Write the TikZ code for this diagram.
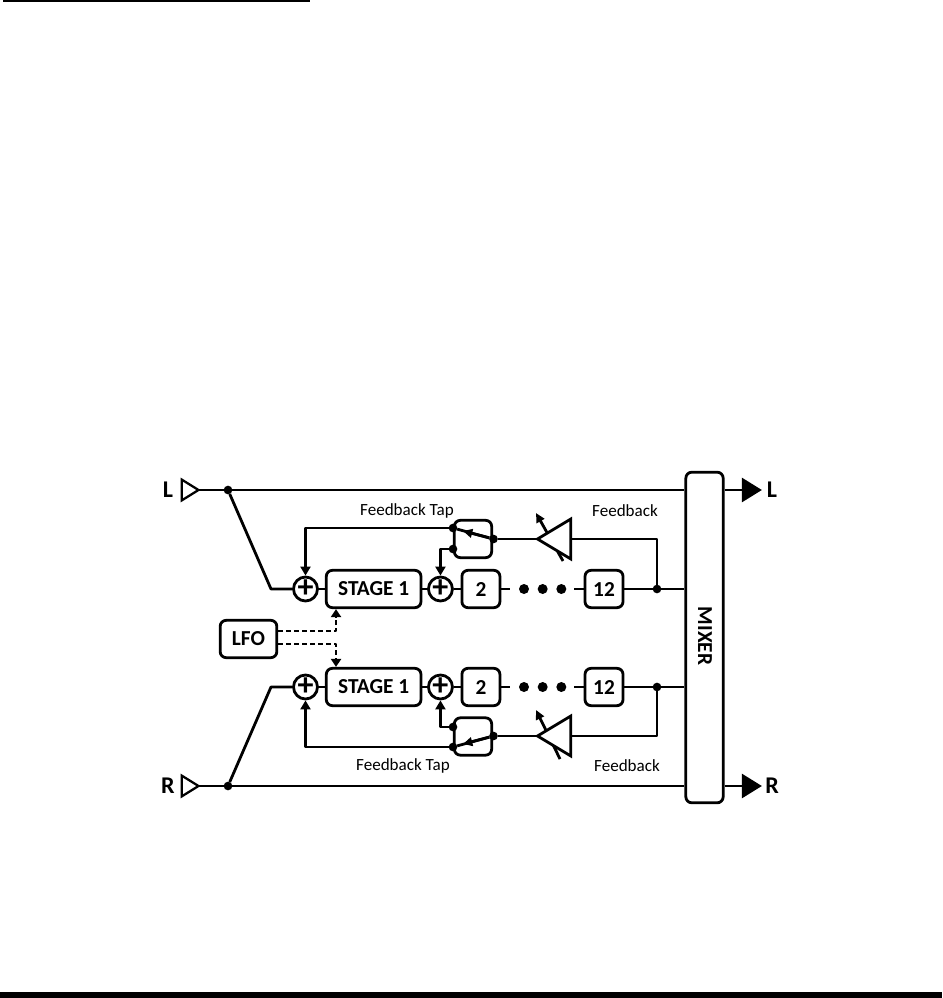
\documentclass[tikz,border=0pt]{standalone}
\usepackage{fontspec}
\setmainfont{Carlito}
\usetikzlibrary{shapes.geometric, arrows.meta, positioning}

\begin{document}
\begin{tikzpicture}[
            x=0.75pt,
            y=-0.75pt,
            line width=2.1pt,
            line join=round,
            every node/.style={font=\bfseries\fontsize{16}{18}\selectfont, inner sep=0pt},
            stagebox/.style={
                    rectangle,
                    rounded corners=4.5pt,
                    draw,
                    minimum width=71pt,
                    minimum height=28pt,
                    align=center
                },
            numbox/.style={
                    stagebox,
                    minimum width=28.5pt
                },
            addnode/.style={
                    circle,
                    draw,
                    minimum size=18pt,
                    font=\bfseries\fontsize{24}{24}\selectfont
                },
            switchbox/.style={
                    rectangle,
                    rounded corners=4.5pt,
                    draw,
                    minimum width=28pt,
                    minimum height=28pt
                },
            joint/.style={
                    circle,
                    fill,
                    outer sep=0pt,
                    minimum size=6.5pt
                },
            bigdot/.style={
                    circle,
                    fill,
                    outer sep=0pt,
                    minimum size=7.5pt
                },
            inport/.style={
                    isosceles triangle,
                    isosceles triangle stretches,
                    draw,
                    line width=1.7pt,
                    line join=miter,
                    outer sep=0pt,
                    minimum width=15.5pt,
                    minimum height=12.5pt,
                    anchor=apex
                },
            outport/.style={
                    inport,
                    fill,
                    anchor=lower side
                },
            amp/.style={
                    isosceles triangle,
                    isosceles triangle stretches,
                    draw,
                    fill=white,
                    line join=miter,
                    outer sep=0pt,
                    shape border rotate=180,
                    minimum width=30pt,
                    minimum height=25pt,
                    anchor=apex
                },
            port/.style={
                    font=\bfseries\fontsize{18}{20}\selectfont
                },
            caption/.style={
                    font=\mdseries\fontsize{12.8}{14}\selectfont
                },
            arrow/.style={
                    -{Triangle[length=6.8pt,width=7.5pt]}
                },
            smallarrow/.style={
                    -{Triangle[length=7pt,width=6.5pt]}
                },
            lfoarrow/.style={
                    dashed,
                    dash pattern=on 4pt off 2pt,
                    -{Triangle[length=6pt,width=7.5pt]}
                }
            ]

            \useasboundingbox (0,0) rectangle (942,998);

            % Bars
            \fill (3,0) rectangle (310,2.5);
            \fill (0,992) rectangle (942,998);

            % Mixer and ports
            \node (mixer) [stagebox, minimum width=28pt, minimum height=248pt] at (704.5,637.5) {};
            \node [rotate=-90] (mixertext) at (705,636) {MIXER};

            \node (inL) [inport] at (198.5,490) {};
            \node (inR) [inport] at (198.5,786) {};
            \node (labelInL) [port] at (168,490) {L};
            \node (labelInR) [port] at (168,786) {R};
            \node (jointL) [joint] at (228,490) {};
            \node (jointR) [joint] at (228,786) {};

            \node (outL) [outport] at (743,490) {};
            \node (outR) [outport] at (743,786) {};
            \node (labelOutL) [port] at (772,490) {L};
            \node (labelOutR) [port] at (772,786) {R};

            % Upper row
            \node (addLa) [addnode] at (305.5,589) {+};
            \node (stageL) [stagebox, right=4.5pt of addLa] {STAGE 1};
            \node (addLb) [addnode, right=3.5pt of stageL] {+};
            \node (twoL) [numbox, right=5pt of addLb] {2};
            \node (dotLa) [bigdot] at (524,589) {};
            \node (dotLb) [bigdot, right=6.5pt of dotLa] {};
            \node (dotLc) [bigdot, right=6.5pt of dotLb] {};
            \node (twelveL) [numbox] at (604,589) {12};
            \node (jointLa) [joint] at (657,589) {};
            \coordinate (stubLa) at (510,589);
            \coordinate (stubLb) at (574,589);
            \coordinate (bendL) at (271,589);

            % Upper feedback
            \node (switchL) [switchbox] at (473,539) {};
            \node (tapLa) [joint] at (453,528) {};
            \node (tapLb) [joint] at (453,549) {};
            \node (tapLc) [joint] at (493.5,539) {};
            \coordinate (wiperL) at (463,531);
            \coordinate (ampTailL) at (563,561);
            \coordinate (ampTipL) at (536,513);
            \draw [smallarrow] (ampTailL) -- (ampTipL);
            \node (ampL) [amp] at (537.5,539) {};

            % Lower row
            \node (addRa) [addnode] at (305.5,687) {+};
            \node (stageR) [stagebox, right=4.5pt of addRa] {STAGE 1};
            \node (addRb) [addnode, right=3.5pt of stageR] {+};
            \node (twoR) [numbox, right=5pt of addRb] {2};
            \node (dotRa) [bigdot] at (524,687) {};
            \node (dotRb) [bigdot, right=6.5pt of dotRa] {};
            \node (dotRc) [bigdot, right=6.5pt of dotRb] {};
            \node (twelveR) [numbox] at (604,687) {12};
            \node (jointRa) [joint] at (657,687) {};
            \coordinate (stubRa) at (510,687);
            \coordinate (stubRb) at (574,687);
            \coordinate (bendR) at (271,687);

            % Lower feedback
            \node (switchR) [switchbox] at (473,736.5) {};
            \node (tapRa) [joint] at (453,747) {};
            \node (tapRb) [joint] at (453,727) {};
            \node (tapRc) [joint] at (493.5,736) {};
            \coordinate (wiperR) at (463,744);
            \coordinate (ampTailR) at (560,759);
            \coordinate (ampTipR) at (536,710);
            \draw [smallarrow] (ampTailR) -- (ampTipR);
            \node (ampR) [amp] at (537.5,736) {};

            % LFO
            \node (lfo) [numbox, minimum width=42.5pt] at (248.5,639) {LFO};
            \coordinate (lfoUp) at (278,631);
            \coordinate (lfoDown) at (278,644);
            \coordinate (lfoUpBend) at (336,631);
            \coordinate (lfoDownBend) at (336,644);

            % Labels
            \node (tapTextL) [caption] at (407,511) {Feedback Tap};
            \node (fbTextL) [caption] at (625,511) {Feedback};
            \node (tapTextR) [caption] at (403,766) {Feedback Tap};
            \node (fbTextR) [caption] at (627,766) {Feedback};

            % Lines, upper
            \draw (inL.apex) -- (jointL);
            \draw (jointL) -- (jointL -| mixer.west);
            \draw (jointL) -- (bendL) -- (addLa);
            \draw (addLa) -- (stageL);
            \draw (stageL) -- (addLb);
            \draw (addLb) -- (twoL);
            \draw (twoL) -- (stubLa);
            \draw (stubLb) -- (twelveL);
            \draw (twelveL) -- (jointLa);
            \draw (jointLa) -- (jointLa -| mixer.west);
            \draw (mixer.east |- outL) -- (outL.lower side);
            \draw (jointLa) |- (ampL.lower side);
            \draw (ampL.apex) -- (tapLc);
            \draw (tapLc) -- (tapLa);
            \draw [smallarrow] (tapLc) -- (wiperL);
            \draw [arrow] (tapLa) -| (addLa);
            \draw [arrow] (tapLb) -| (addLb);

            % Lines, lower
            \draw (inR.apex) -- (jointR);
            \draw (jointR) -- (jointR -| mixer.west);
            \draw (jointR) -- (bendR) -- (addRa);
            \draw (addRa) -- (stageR);
            \draw (stageR) -- (addRb);
            \draw (addRb) -- (twoR);
            \draw (twoR) -- (stubRa);
            \draw (stubRb) -- (twelveR);
            \draw (twelveR) -- (jointRa);
            \draw (jointRa) -- (jointRa -| mixer.west);
            \draw (mixer.east |- outR) -- (outR.lower side);
            \draw (jointRa) |- (ampR.lower side);
            \draw (ampR.apex) -- (tapRc);
            \draw (tapRc) -- (tapRa);
            \draw [smallarrow] (tapRc) -- (wiperR);
            \draw [arrow] (tapRa) -| (addRa);
            \draw [arrow] (tapRb) -| (addRb);

            % LFO lines
            \draw [lfoarrow] (lfoUp) -- (lfoUpBend) -- (lfoUpBend |- stageL.south);
            \draw [lfoarrow] (lfoDown) -- (lfoDownBend) -- (lfoDownBend |- stageR.north);

        \end{tikzpicture}
\end{document}
